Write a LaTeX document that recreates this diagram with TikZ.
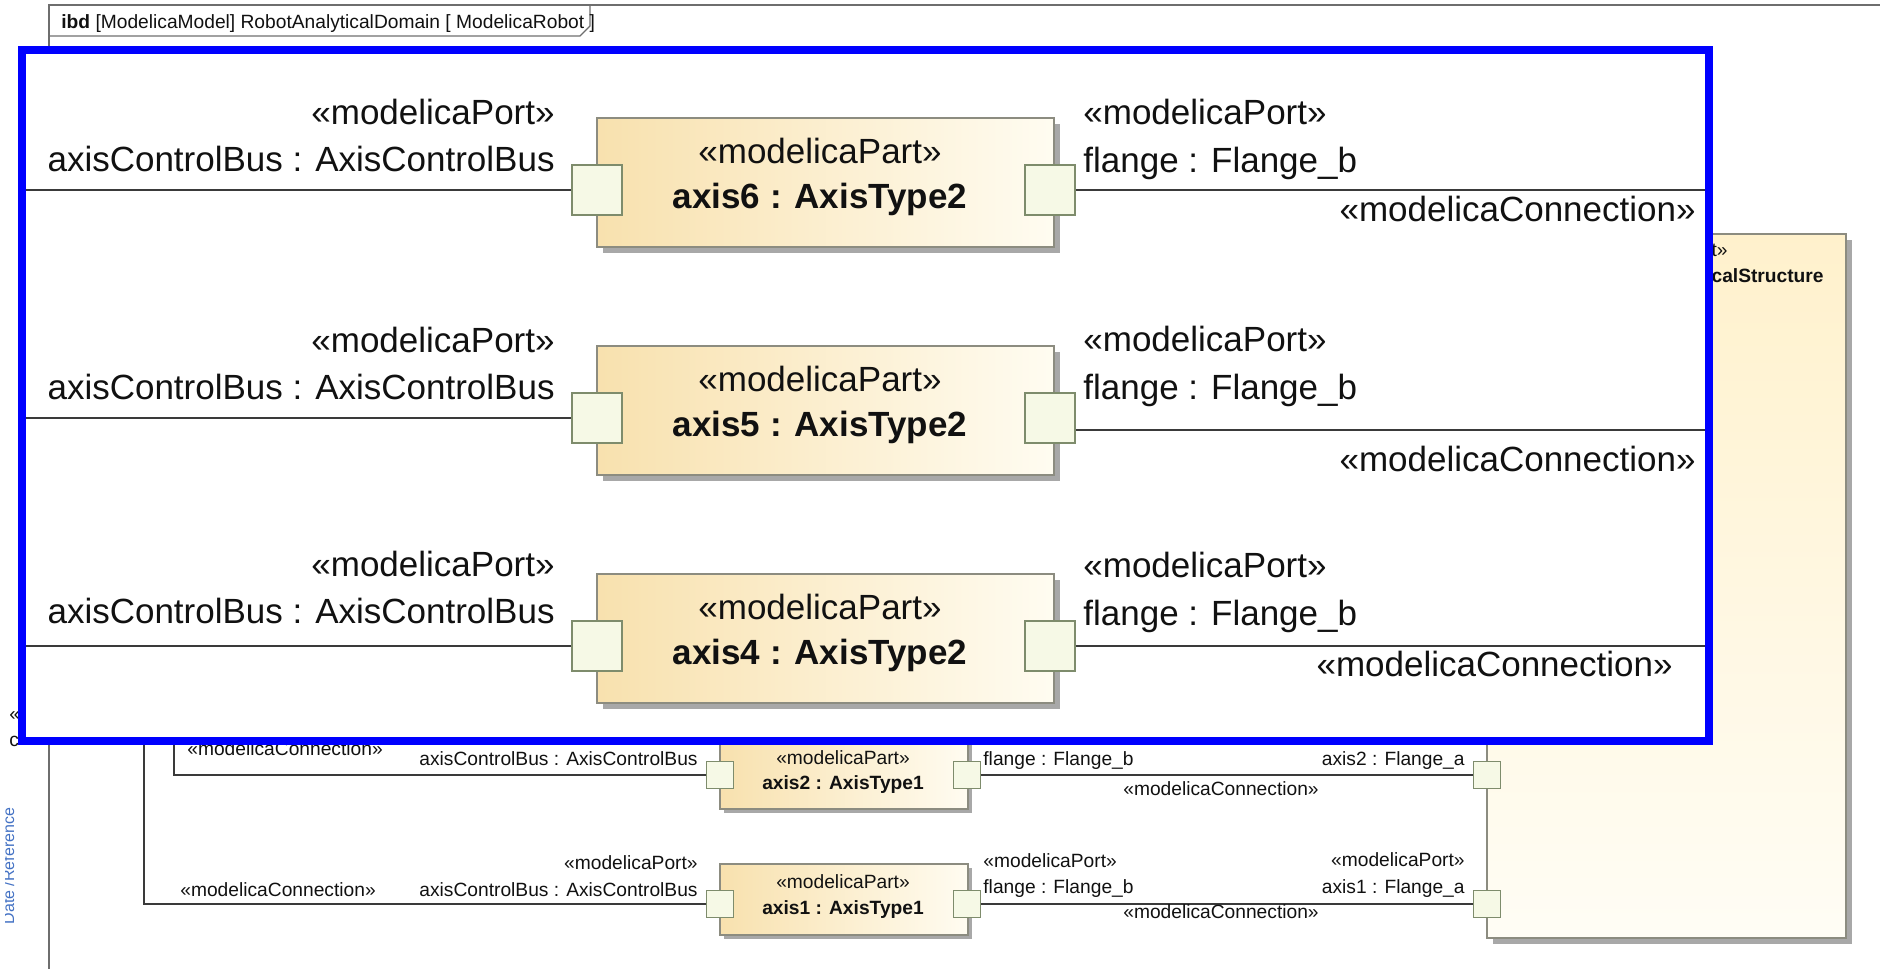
\documentclass[tikz,border=0pt]{standalone}
\usepackage{fontspec}
\setmainfont{Liberation Sans}
\usepackage{tikz}
\usetikzlibrary{positioning,shadows}
\definecolor{zoomblue}{HTML}{0000FF}
\definecolor{framegray}{HTML}{6E6E6E}
\definecolor{wire}{HTML}{3A3A3A}
\definecolor{partline}{HTML}{8C8C80}
\definecolor{partleft}{HTML}{F8E1AE}
\definecolor{partright}{HTML}{FFFCF1}
\definecolor{structtop}{HTML}{FFF1CC}
\definecolor{structbot}{HTML}{FFFDF5}
\definecolor{portline}{HTML}{7E8C6C}
\definecolor{portfill}{HTML}{F6F9E6}
\definecolor{shadowgray}{HTML}{A8A8A8}
\definecolor{txtcol}{HTML}{111111}
\definecolor{datecol}{HTML}{4472C4}
\tikzset{
  bigtxt/.style={font=\fontsize{17.5}{21}\selectfont,inner sep=0pt,text=txtcol},
  smalltxt/.style={font=\fontsize{9.6}{12}\selectfont,inner sep=0pt,text=txtcol},
  bigpart/.style={draw=partline,line width=1pt,left color=partleft,right color=partright,minimum width=228.5pt,minimum height=64.5pt,inner sep=0pt,drop shadow={shadow xshift=3pt,shadow yshift=-3pt,fill=shadowgray,opacity=1}},
  smallpart/.style={draw=partline,line width=0.6pt,left color=partleft,right color=partright,minimum width=124pt,minimum height=35.5pt,inner sep=0pt,drop shadow={shadow xshift=2pt,shadow yshift=-2pt,fill=shadowgray,opacity=1}},
  bigport/.style={draw=portline,line width=0.8pt,fill=portfill,minimum size=25pt,inner sep=0pt},
  smallport/.style={draw=portline,line width=0.5pt,fill=portfill,minimum size=13.5pt,inner sep=0pt},
  bigwire/.style={draw=wire,line width=1.2pt},
  smallwire/.style={draw=wire,line width=0.7pt},
  hilite/.style={draw=zoomblue,line width=4pt}
}

\begin{document}
\begin{tikzpicture}[x=0.5pt,y=-0.5pt]
  \useasboundingbox (0,0) rectangle (1880,969);

  % Frame
  \draw[framegray,line width=1pt] (1880,5) -- (49,5) -- (49,969);
  \draw[framegray,line width=0.6pt] (49,36) -- (580,36) -- (590,26) -- (590,5);
  \node[smalltxt,anchor=base west] (title) at (61,28) {\textbf{ibd} [ModelicaModel] RobotAnalyticalDomain [ ModelicaRobot ]};
  \begin{scope}
    \clip (5,790) rectangle (30,940);
    \node[smalltxt,text=datecol,font=\fontsize{8}{10}\selectfont,rotate=90,anchor=base] (date) at (14,866) {Date /Référence};
  \end{scope}
  \node[smalltxt,anchor=base west] (frag1) at (9,720) {«};
  \node[smalltxt,anchor=base west] (frag2) at (9,746) {c};

  % Structure block
  \node[draw=partline,line width=0.6pt,top color=structtop,bottom color=structbot,minimum width=179.5pt,minimum height=352pt,drop shadow={shadow xshift=3pt,shadow yshift=-3pt,fill=shadowgray,opacity=1}] (mech) at (1666.5,586) {};
  \node[smalltxt,anchor=base east] (mechs) at (1728,256) {t»};
  \node[smalltxt,anchor=base east] (mechn) at (1824,282) {\textbf{calStructure}};
  \node[smallport] (sp2) at (1487,775) {};
  \node[smallport] (sp1) at (1487,904) {};

  % Lower parts
  \node[smallpart] (ax2) at (844,773.5) {};
  \node[smallpart] (ax1) at (844,899.5) {};
  \node[smalltxt,anchor=base] (ax2s) at (843,764) {«modelicaPart»};
  \node[smalltxt,anchor=base] (ax2n) at ([yshift=-12.5pt]ax2s.base) {\textbf{axis2 : AxisType1}};
  \node[smalltxt,anchor=base] (ax1s) at (843,888) {«modelicaPart»};
  \node[smalltxt,anchor=base] (ax1n) at ([yshift=-13pt]ax1s.base) {\textbf{axis1 : AxisType1}};
  \node[smallport] (a2a) at (720,775) {};
  \node[smallport] (a2b) at (967,775) {};
  \node[smallport] (a1a) at (720,904) {};
  \node[smallport] (a1b) at (967,904) {};
  \coordinate (up2) at (174,741);
  \coordinate (up1) at (144,741);
  \draw[smallwire] (a2a) -| (up2);
  \draw[smallwire] (a1a) -| (up1);
  \draw[smallwire] (a2b) -- (sp2);
  \draw[smallwire] (a1b) -- (sp1);

  % Labels
  \node[smalltxt,anchor=base west] (c2l) at (187,755) {«modelicaConnection»};
  \node[smalltxt,anchor=base east] (bus2) at (698,765) {axisControlBus : AxisControlBus};
  \node[smalltxt,anchor=base west] (fl2) at (983,765) {flange : Flange\_b};
  \node[smalltxt,anchor=base east] (fa2) at (1465,765) {axis2 : Flange\_a};
  \node[smalltxt,anchor=base] (c2r) at (1221,795) {«modelicaConnection»};
  \node[smalltxt,anchor=base west] (c1l) at (180,896) {«modelicaConnection»};
  \node[smalltxt,anchor=base east] (bus1) at (698,896) {axisControlBus : AxisControlBus};
  \node[smalltxt,anchor=base east] (bus1s) at ([yshift=13.5pt]bus1.base east) {«modelicaPort»};
  \node[smalltxt,anchor=base west] (fl1) at (983,893) {flange : Flange\_b};
  \node[smalltxt,anchor=base west] (fl1s) at ([yshift=13pt]fl1.base west) {«modelicaPort»};
  \node[smalltxt,anchor=base east] (fa1) at (1465,893) {axis1 : Flange\_a};
  \node[smalltxt,anchor=base east] (fa1s) at ([yshift=13.5pt]fa1.base east) {«modelicaPort»};
  \node[smalltxt,anchor=base] (c1r) at (1221,918) {«modelicaConnection»};

  % Zoomed view
  \node[fill=white,inner sep=0pt,outer sep=0pt,minimum width=843.5pt,minimum height=345.5pt] (zoom) at (865.5,395.5) {};

  % axis6
  \node[bigpart] (ax6) at (825,182) {};
  \node[bigtxt,anchor=base] (ax6s) at (820,163.5) {«modelicaPart»};
  \node[bigtxt,anchor=base] (ax6n) at ([yshift=-22.5pt]ax6s.base) {\textbf{axis6 : AxisType2}};
  \node[bigport] (p6a) at (597,190) {};
  \node[bigport] (p6b) at (1050,190) {};
  \node[bigtxt,anchor=base east] (bus6) at (555,171) {axisControlBus : AxisControlBus};
  \node[bigtxt,anchor=base east] (bus6s) at ([yshift=23.5pt]bus6.base east) {«modelicaPort»};
  \node[bigtxt,anchor=base west] (fl6) at (1083,172) {flange : Flange\_b};
  \node[bigtxt,anchor=base west] (fl6s) at ([yshift=24pt]fl6.base west) {«modelicaPort»};
  \node[bigtxt,anchor=base east] (c6) at (1696,221) {«modelicaConnection»};
  \draw[bigwire] (p6a) -- (p6a -| zoom.west);
  \draw[bigwire] (p6b) -- (p6b -| zoom.east);

  % axis5
  \node[bigpart] (ax5) at (825,410) {};
  \node[bigtxt,anchor=base] (ax5s) at (820,391.5) {«modelicaPart»};
  \node[bigtxt,anchor=base] (ax5n) at ([yshift=-22.5pt]ax5s.base) {\textbf{axis5 : AxisType2}};
  \node[bigport] (p5a) at (597,418) {};
  \node[bigport] (p5b) at (1050,418) {};
  \node[bigtxt,anchor=base east] (bus5) at (555,399) {axisControlBus : AxisControlBus};
  \node[bigtxt,anchor=base east] (bus5s) at ([yshift=23.5pt]bus5.base east) {«modelicaPort»};
  \node[bigtxt,anchor=base west] (fl5) at (1083,399) {flange : Flange\_b};
  \node[bigtxt,anchor=base west] (fl5s) at ([yshift=24pt]fl5.base west) {«modelicaPort»};
  \node[bigtxt,anchor=base east] (c5) at (1696,471) {«modelicaConnection»};
  \coordinate (p5c) at ([yshift=-6pt]p5b.east);
  \draw[bigwire] (p5a) -- (p5a -| zoom.west);
  \draw[bigwire] (p5c) -- (p5c -| zoom.east);

  % axis4
  \node[bigpart] (ax4) at (825,638) {};
  \node[bigtxt,anchor=base] (ax4s) at (820,619.5) {«modelicaPart»};
  \node[bigtxt,anchor=base] (ax4n) at ([yshift=-22.5pt]ax4s.base) {\textbf{axis4 : AxisType2}};
  \node[bigport] (p4a) at (597,646) {};
  \node[bigport] (p4b) at (1050,646) {};
  \node[bigtxt,anchor=base east] (bus4) at (555,623) {axisControlBus : AxisControlBus};
  \node[bigtxt,anchor=base east] (bus4s) at ([yshift=23.5pt]bus4.base east) {«modelicaPort»};
  \node[bigtxt,anchor=base west] (fl4) at (1083,625) {flange : Flange\_b};
  \node[bigtxt,anchor=base west] (fl4s) at ([yshift=24pt]fl4.base west) {«modelicaPort»};
  \node[bigtxt,anchor=base east] (c4) at (1673,676) {«modelicaConnection»};
  \draw[bigwire] (p4a) -- (p4a -| zoom.west);
  \draw[bigwire] (p4b) -- (p4b -| zoom.east);

  \draw[hilite] (zoom.north west) rectangle (zoom.south east);
\end{tikzpicture}
\end{document}
